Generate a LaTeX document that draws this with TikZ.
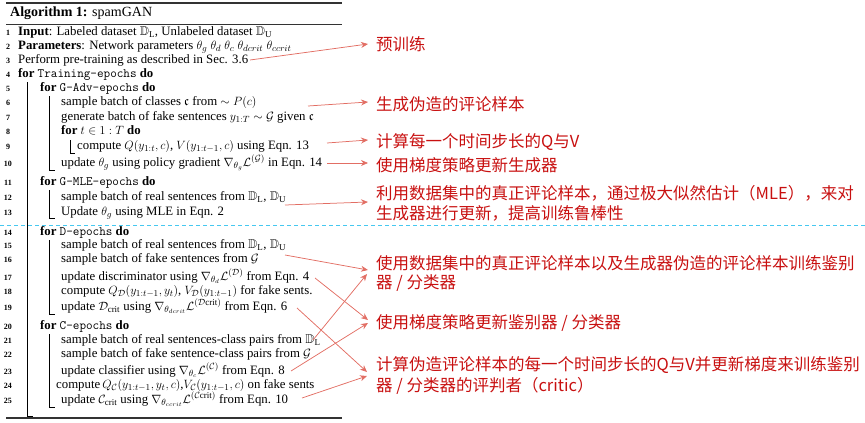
\documentclass[tikz,border=0pt]{standalone}
\usepackage{amssymb}
\usepackage{fontspec}
\setmainfont{Liberation Serif}
\newfontfamily\cjk{Noto Sans CJK SC}
\usetikzlibrary{arrows.meta}
\definecolor{txtred}{RGB}{200,16,16}
\definecolor{arrred}{RGB}{226,110,100}
\definecolor{cyanline}{RGB}{70,200,240}
\begin{document}
\begin{tikzpicture}[x=1pt,y=-1pt,
  alg/.style={anchor=mid west,inner sep=0pt,font=\fontsize{12.8}{14}\selectfont},
  num/.style={anchor=mid,inner sep=0pt,font=\fontsize{8}{9}\selectfont\bfseries},
  note/.style={anchor=west,inner sep=0pt,text=txtred,font=\cjk\fontsize{16.5}{20}\selectfont},
  link/.style={draw=arrred,line width=0.75pt,-{Stealth[length=7pt,width=6pt]}},
  loopbar/.style={line width=0.7pt},
  thickrule/.style={line width=1.6pt,draw=black!80},
  thinrule/.style={line width=0.8pt,draw=black!80},
  sep/.style={draw=cyanline,line width=0.8pt,dash pattern=on 4pt off 3pt}]
\useasboundingbox (0,0) rectangle (865,423);
% rules
\draw[thickrule] (6,3) -- (342,3);
\node[anchor=mid west,inner sep=0pt,font=\fontsize{14}{16}\selectfont] (title) at (10,14) {\textbf{Algorithm 1:} spamGAN};
\draw[thinrule] (6,24) -- (342,24);
\draw[thickrule] (6,418) -- (342,418);
% line numbers
\foreach \n/\y in {1/33,2/47,3/61,4/75,5/89,6/103,7/118,8/132,9/147,10/164,11/183,12/198,13/213,14/233,15/246,16/260,17/278,18/292,19/308,20/327,21/341,22/355,23/372,24/386,25/401}
  \node[num] (n\n) at (8,\y) {\n};
% algorithm lines
\node[alg] (l1) at (18,33) {\textbf{Input}: Labeled dataset $\mathbb{D}_{\mathrm{L}}$, Unlabeled dataset $\mathbb{D}_{\mathrm{U}}$};
\node[alg] (l2) at (18,47) {\textbf{Parameters}: Network parameters $\theta_g\ \theta_d\ \theta_c\ \theta_{dcrit}\ \theta_{ccrit}$};
\node[alg] (l3) at (18,61) {Perform pre-training as described in Sec. 3.6};
\node[alg] (l4) at (18,75) {\textbf{for} \texttt{Training-epochs} \textbf{do}};
\node[alg] (l5) at (40,89) {\textbf{for} \texttt{G-Adv-epochs} \textbf{do}};
\node[alg] (l6) at (61,103) {sample batch of classes $\mathfrak{c}$ from $\sim P(c)$};
\node[alg] (l7) at (61,118) {generate batch of fake sentences $y_{1:T}\sim\mathcal{G}$ given $\mathfrak{c}$};
\node[alg] (l8) at (61,132) {\textbf{for} $t\in 1:T$ \textbf{do}};
\node[alg] (l9) at (77,147) {compute $Q(y_{1:t},c)$, $V(y_{1:t-1},c)$ using Eqn. 13};
\node[alg] (l10) at (61,164) {update $\theta_g$ using policy gradient $\nabla_{\theta_g}\mathcal{L}^{(\mathcal{G})}$ in Eqn. 14};
\node[alg] (l11) at (40,183) {\textbf{for} \texttt{G-MLE-epochs} \textbf{do}};
\node[alg] (l12) at (61,198) {sample batch of real sentences from $\mathbb{D}_{\mathrm{L}}$, $\mathbb{D}_{\mathrm{U}}$};
\node[alg] (l13) at (61,213) {Update $\theta_g$ using MLE in Eqn. 2};
\node[alg] (l14) at (40,233) {\textbf{for} \texttt{D-epochs} \textbf{do}};
\node[alg] (l15) at (61,246) {sample batch of real sentences from $\mathbb{D}_{\mathrm{L}}$, $\mathbb{D}_{\mathrm{U}}$};
\node[alg] (l16) at (61,260) {sample batch of fake sentences from $\mathcal{G}$};
\node[alg] (l17) at (61,278) {update discriminator using $\nabla_{\theta_d}\mathcal{L}^{(\mathcal{D})}$ from Eqn. 4};
\node[alg] (l18) at (61,292) {compute $Q_{\mathcal{D}}(y_{1:t-1},y_t)$, $V_{\mathcal{D}}(y_{1:t-1})$ for fake sents.};
\node[alg] (l19) at (61,308) {update $\mathcal{D}_{\mathrm{crit}}$ using $\nabla_{\theta_{dcrit}}\mathcal{L}^{(\mathcal{D}\mathrm{crit})}$ from Eqn. 6};
\node[alg] (l20) at (40,327) {\textbf{for} \texttt{C-epochs} \textbf{do}};
\node[alg] (l21) at (61,341) {sample batch of real sentences-class pairs from $\mathbb{D}_{\mathrm{L}}$};
\node[alg] (l22) at (61,355) {sample batch of fake sentence-class pairs from $\mathcal{G}$};
\node[alg] (l23) at (61,372) {update classifier using $\nabla_{\theta_c}\mathcal{L}^{(\mathcal{C})}$ from Eqn. 8};
\node[alg] (l24) at (56,386) {compute\,$Q_{\mathcal{C}}(y_{1:t-1},y_t,c)$,$V_{\mathcal{C}}(y_{1:t-1},c)$ on fake sents};
\node[alg] (l25) at (61,401) {update $\mathcal{C}_{\mathrm{crit}}$ using $\nabla_{\theta_{ccrit}}\mathcal{L}^{(\mathcal{C}\mathrm{crit})}$ from Eqn. 10};
% loop bars
\draw[loopbar] (27,82) -- (27,416) -- (33,416);
\draw[loopbar] (49,96) -- (49,170) -- (55,170);
\draw[loopbar] (70,140) -- (70,153) -- (75,153);
\draw[loopbar] (49,190) -- (49,218) -- (55,218);
\draw[loopbar] (49,240) -- (49,314) -- (55,314);
\draw[loopbar] (49,334) -- (49,407) -- (55,407);
% separator
\draw[sep] (0,225) -- (865,225);
% notes
\node[note] (c1) at (376,44) {预训练};
\node[note] (c2) at (376,104) {生成伪造的评论样本};
\node[note] (c3) at (376,142) {计算每一个时间步长的Q与V};
\node[note] (c4) at (376,165) {使用梯度策略更新生成器};
\node[note] (c5a) at (376,193) {利用数据集中的真正评论样本，通过极大似然估计（MLE），来对};
\node[note] (c5b) at (376,213) {生成器进行更新，提高训练鲁棒性};
\node[note] (c6a) at (376,263) {使用数据集中的真正评论样本以及生成器伪造的评论样本训练鉴别};
\node[note] (c6b) at (376,283) {器 / 分类器};
\node[note] (c7) at (376,323) {使用梯度策略更新鉴别器 / 分类器};
\node[note] (c8a) at (376,365) {计算伪造评论样本的每一个时间步长的Q与V并更新梯度来训练鉴别};
\node[note] (c8b) at (376,386) {器 / 分类器的评判者（critic）};
% arrow ends
\coordinate (s1) at (250,60);  \coordinate (t1) at (368,44);
\coordinate (s2) at (308,106); \coordinate (t2) at (368,102);
\coordinate (s3) at (327,143); \coordinate (t3) at (368,140);
\coordinate (s4) at (327,163); \coordinate (t4) at (368,163);
\coordinate (s5) at (285,205); \coordinate (t5) at (368,202);
\coordinate (s6) at (285,255); \coordinate (t6) at (368,270);
\coordinate (s7) at (313,340); \coordinate (t7) at (367,274);
\coordinate (s8) at (315,278); \coordinate (t8) at (368,320);
\coordinate (s9) at (291,371); \coordinate (t9) at (368,323);
\coordinate (s10) at (297,308); \coordinate (t10) at (367,372);
\coordinate (s11) at (302,398); \coordinate (t11) at (367,376);
\foreach \i in {1,...,11} \draw[link] (s\i) -- (t\i);
\end{tikzpicture}
\end{document}
